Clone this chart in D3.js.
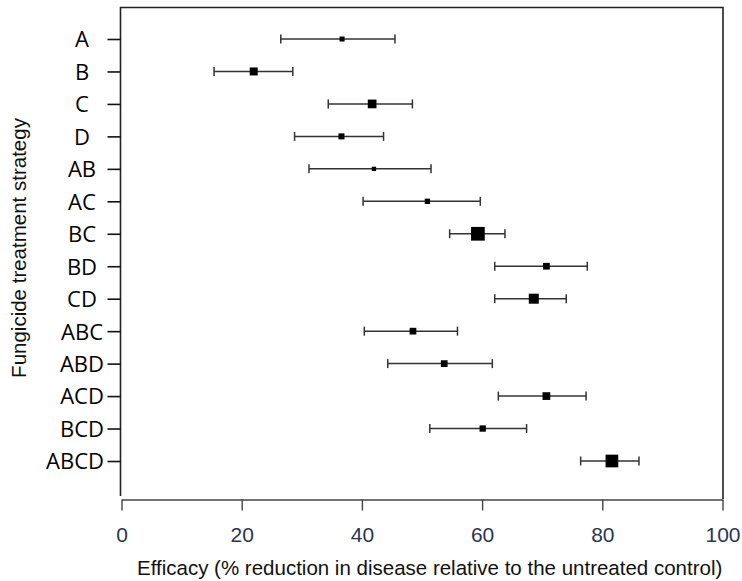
<!DOCTYPE html>
<html>
<head>
<meta charset="utf-8">
<script src="https://cdn.jsdelivr.net/npm/d3@7"></script>
<style>
  html, body { margin: 0; padding: 0; background: #fff; }
  svg { display: block; }
</style>
</head>
<body>
<svg id="chart" width="742" height="581"></svg>
<script>
const categories = ["A","B","C","D","AB","AC","BC","BD","CD","ABC","ABD","ACD","BCD","ABCD"];
const efficacy   = [36.7, 22.0, 41.7, 36.6, 42.0, 50.9, 59.3, 70.7, 68.6, 48.5, 53.7, 70.7, 60.1, 81.6];
const lowerCI    = [26.5, 15.4, 34.4, 28.8, 31.2, 40.2, 54.6, 62.1, 62.1, 40.4, 44.3, 62.7, 51.3, 76.4];
const upperCI    = [45.5, 28.5, 48.4, 43.6, 51.5, 59.7, 63.8, 77.5, 74.0, 55.9, 61.7, 77.3, 67.4, 86.1];
const weights    = [5.0, 8.0, 8.7, 6.0, 4.3, 5.3, 13.7, 6.7, 10.0, 6.7, 6.7, 7.7, 6.3, 12.7];
const xTicks     = [0, 20, 40, 60, 80, 100];
const xTitle = "Efficacy (% reduction in disease relative to the untreated control)";
const yTitle = "Fungicide treatment strategy";

const svg = d3.select("#chart");
const x = d3.scaleLinear().domain([0, 100]).range([121.5, 722.5]);
const y = d3.scalePoint().domain(categories).range([39, 461]);
const size = d3.scaleLinear().domain([0, d3.max(weights)]).range([0, 13.7]);

const box = {left: 120.5, right: 723, top: 7.5, bottom: 499};

// plot frame (left, top, right)
svg.append("path")
  .attr("d", `M${box.left},${box.bottom - 3}V${box.top}H${box.right}V${box.bottom}`)
  .attr("fill", "none").attr("stroke", "#222").attr("stroke-width", 1.6);

// x axis
const xAxis = svg.append("g").attr("transform", `translate(0,${box.bottom + 0.5})`)
  .call(d3.axisBottom(x).tickValues(xTicks).tickSize(11).tickPadding(17).tickSizeOuter(0));
xAxis.select(".domain").attr("stroke", "#444").attr("stroke-width", 1.4);
xAxis.selectAll(".tick line").attr("stroke", "#444").attr("stroke-width", 1.4);
xAxis.selectAll(".tick text")
  .attr("font-family", "'Liberation Sans', Arial, sans-serif")
  .attr("font-size", 21).attr("fill", "#2b3550");

// y axis ticks
const yAxis = svg.append("g").attr("transform", `translate(${box.left},0)`)
  .call(d3.axisLeft(y).tickSize(13).tickPadding(3).tickSizeOuter(0));
yAxis.select(".domain").remove();
yAxis.selectAll(".tick line").attr("stroke", "#111").attr("stroke-width", 1.6);
yAxis.selectAll(".tick text")
  .attr("font-family", "'Open Sans', sans-serif")
  .attr("font-size", 22).attr("fill", "#000")
  .attr("dy", "0.36em")
  .each(function() {
    const w = this.getComputedTextLength();
    const right = Math.min(82 + w / 2, 104);
    d3.select(this).attr("text-anchor", "end").attr("x", right - box.left);
  });

// error bars
const rows = categories.map((c, i) => ({c, m: efficacy[i], lo: lowerCI[i], hi: upperCI[i], w: weights[i]}));
const g = svg.append("g");
g.selectAll("line.ci").data(rows).join("line").attr("class", "ci")
  .attr("x1", d => x(d.lo)).attr("x2", d => x(d.hi))
  .attr("y1", d => y(d.c)).attr("y2", d => y(d.c))
  .attr("stroke", "#333").attr("stroke-width", 1.5);
g.selectAll("line.capL").data(rows).join("line").attr("class", "capL")
  .attr("x1", d => x(d.lo)).attr("x2", d => x(d.lo))
  .attr("y1", d => y(d.c) - 4.5).attr("y2", d => y(d.c) + 4.5)
  .attr("stroke", "#333").attr("stroke-width", 1.5);
g.selectAll("line.capR").data(rows).join("line").attr("class", "capR")
  .attr("x1", d => x(d.hi)).attr("x2", d => x(d.hi))
  .attr("y1", d => y(d.c) - 4.5).attr("y2", d => y(d.c) + 4.5)
  .attr("stroke", "#333").attr("stroke-width", 1.5);
g.selectAll("rect.pt").data(rows).join("rect").attr("class", "pt")
  .attr("x", d => x(d.m) - size(d.w) / 2).attr("y", d => y(d.c) - size(d.w) / 2)
  .attr("width", d => size(d.w)).attr("height", d => size(d.w))
  .attr("fill", "#000");

// titles
svg.append("text").attr("x", 137).attr("y", 575)
  .attr("font-family", "'Liberation Sans', Arial, sans-serif").attr("font-size", 20.5)
  .attr("fill", "#111").text(xTitle);
svg.append("text").attr("transform", "translate(25.5,248) rotate(-90)")
  .attr("text-anchor", "middle")
  .attr("font-family", "'Liberation Sans', Arial, sans-serif").attr("font-size", 20.5)
  .attr("fill", "#111").text(yTitle);
</script>
</body>
</html>
